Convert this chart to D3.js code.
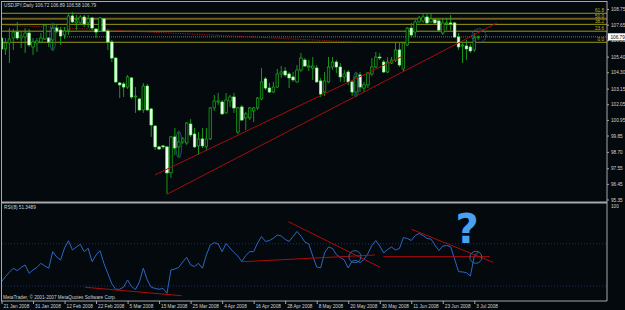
<!DOCTYPE html>
<html>
<head>
<meta charset="utf-8">
<script src="https://cdn.jsdelivr.net/npm/d3@7"></script>
<style>
  body { margin: 0; background: #000; }
  svg { display: block; font-family: "Liberation Sans", Arial, sans-serif; }
</style>
</head>
<body>
<svg id="chart" width="625" height="310"></svg>
<script>
'use strict';

// USDJPY daily bars, 21 Jan 2008 .. 4 Jul 2008
const openP = [106.71,105.94,106.36,106.71,107.13,106.71,106.78,107.06,106.08,106.36,
  106.43,106.64,106.71,106.57,107.41,107.27,106.92,107.27,108.26,107.77,
  107.77,108.19,107.77,108.12,107.34,107.20,108.05,107.20,106.43,105.30,
  103.55,103.48,103.26,103.90,102.56,102.42,101.65,103.33,101.72,100.52,
  99.05,99.12,99.05,97.22,99.75,99.05,99.40,99.33,100.66,99.96,
  99.12,99.61,99.05,99.61,101.79,102.21,102.21,101.44,102.28,102.56,
  100.10,101.86,101.09,101.09,101.58,101.79,102.42,103.83,103.19,102.91,
  103.26,104.18,104.39,104.18,103.97,103.62,104.46,105.16,104.67,104.60,
  104.60,103.69,102.91,103.62,104.67,105.02,104.67,103.97,104.32,103.62,
  102.91,104.11,103.19,103.41,104.18,104.67,105.37,105.02,104.32,104.95,
  105.16,105.87,104.53,106.22,107.41,107.13,107.84,107.91,108.19,107.84,
  107.98,107.91,107.06,107.70,107.77,107.77,106.78,106.15,106.15,106.08,
  105.87,106.72];
const highP = [106.78,106.71,107.41,107.34,107.84,107.13,107.41,107.34,106.71,106.71,
  107.06,107.70,106.78,107.70,107.62,107.48,107.48,108.40,108.54,108.33,
  108.33,108.33,108.33,108.19,107.41,108.19,108.12,107.34,106.57,105.37,
  103.62,103.62,104.11,103.97,103.26,102.49,103.55,103.48,101.79,100.59,
  99.12,99.19,99.12,99.82,100.38,100.10,99.75,100.80,101.01,100.38,
  100.10,100.38,100.38,101.86,102.70,102.84,102.35,102.84,102.70,102.84,
  101.86,102.00,101.51,101.86,101.86,102.56,104.60,103.97,103.55,103.62,
  104.53,104.74,104.67,104.32,104.32,104.81,105.66,105.30,105.16,105.37,
  104.81,103.90,104.32,105.37,105.37,105.16,104.95,104.46,104.46,103.76,
  104.25,104.32,103.62,104.32,105.30,105.73,105.66,105.16,105.37,105.37,
  106.36,106.36,106.43,107.48,107.77,107.98,108.26,108.47,108.40,108.47,
  108.12,108.12,108.12,108.12,108.33,107.84,107.06,106.43,106.57,106.29,
  107.06,106.89];
const lowP = [105.66,105.52,104.95,105.87,106.57,106.01,105.66,106.08,105.52,105.73,
  106.36,106.57,106.08,105.87,107.06,106.22,106.64,106.92,107.77,107.27,
  107.62,107.48,107.41,107.27,106.71,107.13,107.13,105.87,105.02,103.55,
  102.49,102.56,103.12,102.42,101.44,101.58,101.44,101.58,99.75,98.83,
  98.83,98.90,95.74,96.87,98.48,98.34,99.26,99.19,99.75,98.97,
  98.48,98.97,98.83,99.54,101.58,102.00,101.30,101.37,101.86,101.44,
  99.96,100.87,100.24,100.94,100.80,101.65,102.35,103.05,102.84,102.84,
  103.19,103.90,103.97,103.19,103.62,103.55,104.32,104.67,104.39,103.76,
  103.55,102.56,102.63,103.55,104.46,104.25,103.62,103.62,103.41,102.63,
  102.63,102.91,102.91,103.19,104.04,104.60,105.16,104.25,104.25,104.88,
  105.02,104.67,104.32,106.15,106.78,106.78,107.77,107.77,107.62,107.77,
  107.70,107.13,106.92,107.27,107.27,106.71,105.87,104.95,105.16,105.66,
  105.73,106.58];
const closeP = [105.94,106.36,106.64,107.13,106.71,106.85,107.06,106.22,106.43,106.50,
  106.71,107.62,106.43,107.41,107.20,106.85,107.20,108.26,107.84,107.91,
  108.19,107.70,108.05,107.41,107.13,108.12,107.20,106.43,105.30,103.62,
  103.41,103.26,103.97,102.56,102.63,101.65,103.33,101.65,100.59,99.05,
  98.90,99.05,97.22,99.75,98.97,99.40,99.61,100.73,99.89,99.05,
  99.61,99.12,99.61,101.79,102.28,102.28,101.37,102.35,102.56,101.79,
  101.79,100.94,101.37,101.79,101.79,102.49,103.62,103.19,102.91,103.26,
  104.18,104.32,104.11,103.90,103.76,104.46,105.30,104.74,104.74,104.74,
  103.62,102.77,103.69,104.67,105.02,104.67,103.97,104.18,103.62,102.91,
  103.97,103.26,103.41,104.25,104.67,105.37,105.33,104.32,105.02,105.16,
  105.87,104.81,106.36,107.41,106.92,107.84,108.12,108.19,107.77,108.05,
  107.77,107.27,107.77,107.77,107.70,106.78,106.08,106.22,105.94,105.80,
  106.71,106.79];

// RSI(8) per bar
const rsiValues = [20.9,26.1,30.7,34.8,32.3,35.6,38.2,29.6,33.0,35.7,
  39.9,37.1,34.8,51.9,46.4,43.3,55.7,63.2,53.6,56.7,
  59.4,51.9,55.4,41.6,48.5,52.9,39.7,29.3,18.7,13.1,
  13.1,15.4,22.7,16.0,12.9,20.6,34.8,22.7,15.2,14.0,
  13.1,14.1,8.9,33.0,34.0,35.7,41.3,46.1,38.2,36.6,
  39.9,34.8,48.5,58.8,61.2,59.8,51.9,60.3,55.7,51.0,
  47.4,41.6,47.9,51.9,51.9,60.9,67.5,62.4,63.4,65.7,
  69.1,68.0,64.5,62.4,67.5,72.7,68.0,61.8,59.8,47.4,
  36.1,35.1,50.6,56.7,55.2,48.9,45.8,43.3,35.1,42.2,
  42.8,40.7,43.9,50.0,58.2,63.4,57.7,50.6,54.2,56.7,
  53.6,55.2,66.4,65.5,63.4,68.5,70.6,68.5,65.5,64.9,
  58.8,53.1,57.7,58.2,57.0,44.3,31.3,31.0,30.2,26.8,
  47.4,51.3];
const rsiLevels = [60, 16.5];

const priceTicks = [108.75,107.65,106.55,105.40,104.30,103.15,102.05,100.95,99.85,98.70,97.55,96.45,95.35];
const dateLabels = ['21 Jan 2008','31 Jan 2008','12 Feb 2008','22 Feb 2008','5 Mar 2008','15 Mar 2008',
  '25 Mar 2008','4 Apr 2008','16 Apr 2008','28 Apr 2008','8 May 2008','20 May 2008',
  '30 May 2008','11 Jun 2008','23 Jun 2008','3 Jul 2008'];
const labelEvery = 8;

// fibonacci retracement
const fibLow = 106.41, fibHigh = 109.71;
const fibLevels = [0, 23.6, 38.2, 50, 61.8];

// drawn objects: [bar, value] pairs
const priceTrendlines = [[[38.96, 97.08], [101.9, 105.44]], [[42.0, 95.72], [125.76, 107.77]]];
const oldTrendline = [[0.89, 107.62], [89.7, 106.43]];
const rsiTrendlines = [[[21.2, 15.2], [45.7, 6.5]], [[72.8, 82.8], [96.1, 35.8]],
  [[61.0, 41.5], [94.8, 48.5]], [[96.9, 46.7], [124.0, 46.7]], [[104.1, 74.9], [124.8, 40.9]]];
const priceCircles = [[121.2, 106.87, 7]];
const rsiCircles = [[120.4, 46.1, 6], [89.7, 46.7, 6]];
const markedBars = [13, 45, 90];

const bid = closeP[closeP.length - 1];
const title = 'USDJPY,Daily  ' + [openP, highP, lowP, closeP].map(a => a[a.length - 1].toFixed(2)).join(' ');

const axisX = 607;
const priceBox = { top: 2, bottom: 201 };
const rsiBox = { top: 204, bottom: 301 };

const x = d3.scaleLinear().domain([0, 121]).range([1.5, 478.24]);
const yPrice = d3.scaleLinear().domain([95.35, 108.75]).range([199.5, 9]);
const yRsi = d3.scaleLinear().domain([0, 100]).range([302, 205]);

const svg = d3.select('#chart');
const textColor = '#d2d2d2';
const fontSize = 4.7;

svg.append('rect').attr('width', 625).attr('height', 310).attr('fill', '#03090d');

const defs = svg.append('defs');
defs.append('clipPath').attr('id', 'clipPrice').append('rect')
  .attr('x', 2).attr('y', priceBox.top).attr('width', axisX - 2).attr('height', priceBox.bottom - priceBox.top);
defs.append('clipPath').attr('id', 'clipRsi').append('rect')
  .attr('x', 2).attr('y', rsiBox.top).attr('width', axisX - 2).attr('height', rsiBox.bottom - rsiBox.top);

//
// PRICE PANEL
//
const price = svg.append('g').attr('clip-path', 'url(#clipPrice)');

// fibo levels
fibLevels.forEach(lv => {
  const p = fibLow + (fibHigh - fibLow) * lv / 100;
  price.append('line')
    .attr('x1', 2).attr('x2', axisX)
    .attr('y1', yPrice(p)).attr('y2', yPrice(p))
    .attr('stroke', lv === 50 ? '#6e5f1c' : '#9c9a10')
    .attr('stroke-width', lv === 50 ? 2 : 1);
  price.append('text')
    .attr('x', axisX - 3).attr('y', yPrice(p) - 1)
    .attr('text-anchor', 'end')
    .attr('font-size', fontSize)
    .attr('fill', '#b8b420')
    .text(lv.toFixed(1));
});

// bid line
price.append('line')
  .attr('x1', 65).attr('x2', axisX)
  .attr('y1', yPrice(bid)).attr('y2', yPrice(bid))
  .attr('stroke', '#8a8a8a').attr('stroke-width', 0.8).attr('stroke-dasharray', '1,1');

// old dotted trendline
price.append('line')
  .attr('x1', x(oldTrendline[0][0])).attr('y1', yPrice(oldTrendline[0][1]))
  .attr('x2', x(oldTrendline[1][0])).attr('y2', yPrice(oldTrendline[1][1]))
  .attr('stroke', '#b01818').attr('stroke-width', 0.9).attr('stroke-dasharray', '1.2,1.2');

// candles
const bars = d3.range(openP.length).map(i => ({ i: i, o: openP[i], h: highP[i], l: lowP[i], c: closeP[i] }));

price.selectAll('line.wick')
  .data(bars)
  .enter()
  .append('line')
  .classed('wick', true)
  .attr('x1', d => x(d.i)).attr('x2', d => x(d.i))
  .attr('y1', d => yPrice(d.h)).attr('y2', d => yPrice(d.l))
  .attr('stroke', '#1aa81a').attr('stroke-width', 0.9);

price.selectAll('rect.body')
  .data(bars)
  .enter()
  .append('rect')
  .classed('body', true)
  .attr('x', d => x(d.i) - 1.3)
  .attr('width', 2.6)
  .attr('y', d => yPrice(Math.max(d.o, d.c)))
  .attr('height', d => Math.max(0.9, Math.abs(yPrice(d.o) - yPrice(d.c))))
  .attr('fill', d => d.c >= d.o ? '#03150a' : '#f2fff2')
  .attr('stroke', d => d.c >= d.o ? '#22c422' : '#66ff66')
  .attr('stroke-width', 0.6);

// marked bars (blue outlines)
price.selectAll('ellipse.mark')
  .data(markedBars)
  .enter()
  .append('ellipse')
  .classed('mark', true)
  .attr('cx', i => x(i))
  .attr('cy', i => (yPrice(highP[i]) + yPrice(lowP[i])) / 2)
  .attr('rx', 3)
  .attr('ry', i => (yPrice(lowP[i]) - yPrice(highP[i])) / 2 + 1)
  .attr('fill', 'none').attr('stroke', '#2f5d8a').attr('stroke-width', 0.8);

// trendlines
priceTrendlines.forEach(t => {
  price.append('line')
    .attr('x1', x(t[0][0])).attr('y1', yPrice(t[0][1]))
    .attr('x2', x(t[1][0])).attr('y2', yPrice(t[1][1]))
    .attr('stroke', '#a80c0c').attr('stroke-width', 1);
});

priceCircles.forEach(c => {
  price.append('circle')
    .attr('cx', x(c[0])).attr('cy', yPrice(c[1])).attr('r', c[2])
    .attr('fill', 'none').attr('stroke', '#3a6ea8').attr('stroke-width', 0.9)
    .attr('stroke-dasharray', '2,1');
});

price.append('text')
  .attr('x', 4).attr('y', 7)
  .attr('font-size', fontSize).attr('fill', textColor)
  .text(title);

//
// RSI PANEL
//
const rsi = svg.append('g').attr('clip-path', 'url(#clipRsi)');

rsiLevels.forEach(lv => {
  rsi.append('line')
    .attr('x1', 2).attr('x2', axisX)
    .attr('y1', yRsi(lv)).attr('y2', yRsi(lv))
    .attr('stroke', '#24358a').attr('stroke-width', 0.8).attr('stroke-dasharray', '1,2');
});

rsi.append('path')
  .datum(rsiValues)
  .attr('d', d3.line().x((d, i) => x(i)).y(d => yRsi(d)))
  .attr('fill', 'none').attr('stroke', '#2e66c4').attr('stroke-width', 1);

rsiTrendlines.forEach(t => {
  rsi.append('line')
    .attr('x1', x(t[0][0])).attr('y1', yRsi(t[0][1]))
    .attr('x2', x(t[1][0])).attr('y2', yRsi(t[1][1]))
    .attr('stroke', '#b00c0c').attr('stroke-width', 1);
});

rsiCircles.forEach(c => {
  rsi.append('circle')
    .attr('cx', x(c[0])).attr('cy', yRsi(c[1])).attr('r', c[2])
    .attr('fill', 'none').attr('stroke', '#3a6ea8').attr('stroke-width', 0.9);
});

rsi.append('text')
  .attr('x', x(118.2)).attr('y', yRsi(60.8))
  .attr('text-anchor', 'middle')
  .attr('font-family', '"DejaVu Sans", sans-serif')
  .attr('font-weight', 'bold')
  .attr('font-size', 40)
  .attr('fill', '#4aa2ee')
  .text('?');

rsi.append('text')
  .attr('x', 4).attr('y', 209)
  .attr('font-size', fontSize).attr('fill', textColor)
  .text('RSI(8) ' + (51.3489).toFixed(4));

rsi.append('text')
  .attr('x', 3).attr('y', 299)
  .attr('font-size', fontSize).attr('fill', textColor)
  .text('MetaTrader, \u00a9 2001-2007 MetaQuotes Software Corp.');

//
// FRAME AND AXES
//
const frame = svg.append('g').attr('fill', 'none').attr('stroke', '#a8a8a8');
frame.append('line').attr('x1', 1).attr('x2', axisX).attr('y1', 1.5).attr('y2', 1.5);
frame.append('line').attr('x1', 1.5).attr('x2', 1.5).attr('y1', 1).attr('y2', rsiBox.bottom);
frame.append('line').attr('x1', axisX).attr('x2', axisX).attr('y1', 1).attr('y2', rsiBox.bottom);
frame.append('line').attr('x1', 1).attr('x2', axisX).attr('y1', 202.5).attr('y2', 202.5).attr('stroke-width', 2.2);
frame.append('line').attr('x1', 1).attr('x2', axisX).attr('y1', rsiBox.bottom).attr('y2', rsiBox.bottom);

function styleAxis(g) {
  g.select('.domain').remove();
  g.selectAll('line').attr('stroke', '#a8a8a8');
  g.selectAll('text').attr('fill', textColor).attr('font-size', fontSize)
    .attr('font-family', '"Liberation Sans", Arial, sans-serif');
}

svg.append('g')
  .attr('transform', 'translate(' + axisX + ',0)')
  .call(d3.axisRight(yPrice).tickValues(priceTicks).tickFormat(d3.format('.2f')).tickSize(2).tickPadding(2))
  .call(styleAxis);

svg.append('g')
  .attr('transform', 'translate(' + axisX + ',0)')
  .call(d3.axisRight(yRsi).tickValues([100]).tickFormat(d3.format('d')).tickSize(0).tickPadding(4))
  .call(styleAxis)
  .selectAll('text').attr('y', 206 - yRsi(100)).attr('dy', '0.32em');

svg.append('g')
  .attr('transform', 'translate(0,' + rsiBox.bottom + ')')
  .call(d3.axisBottom(x)
    .tickValues(dateLabels.map((d, k) => k * labelEvery))
    .tickFormat((d, k) => dateLabels[k])
    .tickSize(3).tickPadding(1))
  .call(styleAxis)
  .selectAll('text').attr('text-anchor', 'start').attr('dx', 1.5);

// current price marker
svg.append('rect')
  .attr('x', axisX + 1).attr('y', yPrice(bid) - 3.6)
  .attr('width', 17).attr('height', 7.2).attr('fill', '#ffffff');
svg.append('text')
  .attr('x', axisX + 3.5).attr('y', yPrice(bid)).attr('dy', '0.35em')
  .attr('font-size', fontSize).attr('fill', '#000')
  .text(bid.toFixed(2));
</script>
</body>
</html>
